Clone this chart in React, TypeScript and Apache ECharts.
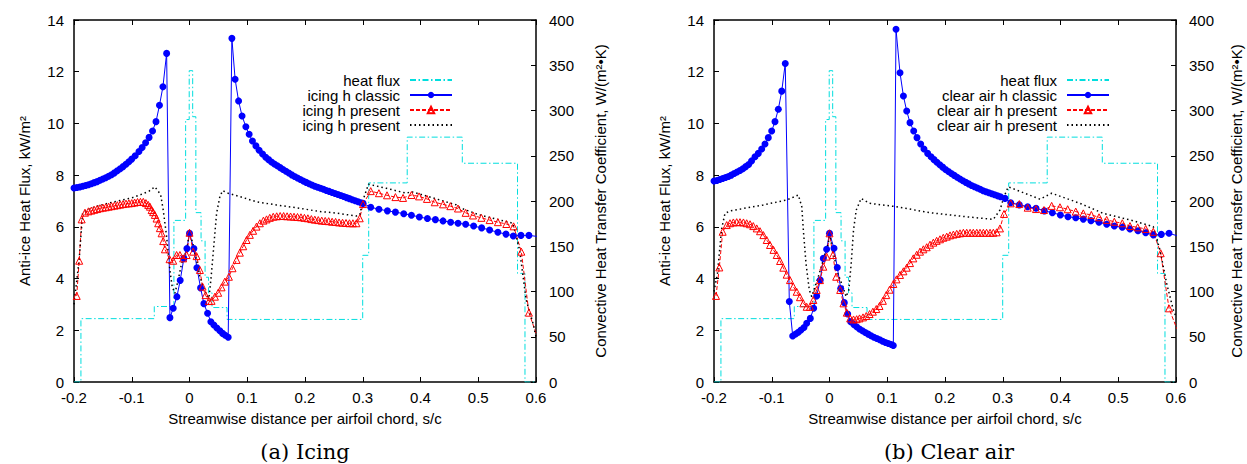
import React, { useEffect, useRef } from 'react';
import * as echarts from 'echarts';

// ---------- data (s/c, value) ----------
// heat flux, kW/m^2 (left axis), step function: value holds from s until next s
const heatFlux: [number, number][] = [
  [-0.2, 0], [-0.188, 2.45], [-0.061, 2.92], [-0.027, 6.25], [-0.0067, 10.15], [-0.0005, 12.04],
  [0.0055, 10.26], [0.011, 6.55], [0.02, 5.46], [0.027, 4.05], [0.033, 3.45], [0.039, 2.88],
  [0.065, 2.42], [0.2999, 4.9], [0.3103, 7.7], [0.377, 9.47], [0.4724, 8.46], [0.568, 4.2],
  [0.5809, 0], [0.6, 0],
];

// heat transfer coefficients, W/(m^2 K) (right axis)
const icingClassic: [number, number][] = [
  [-0.2, 214.3], [-0.195, 214.9], [-0.19, 215.4], [-0.185, 216.3], [-0.18, 217.1], [-0.175, 218.0],
  [-0.17, 219.1], [-0.165, 220.3], [-0.16, 221.4], [-0.155, 222.9], [-0.15, 224.3], [-0.145, 225.7],
  [-0.14, 227.4], [-0.135, 229.1], [-0.13, 231.1], [-0.125, 233.4], [-0.12, 235.7], [-0.115, 238.0],
  [-0.11, 240.6], [-0.105, 243.4], [-0.1, 246.3], [-0.094, 250.0], [-0.0875, 254.6], [-0.082, 259.1],
  [-0.076, 264.3], [-0.07, 270.3], [-0.064, 277.4], [-0.058, 287.7], [-0.052, 305.7], [-0.046, 326.3],
  [-0.0396, 363.1],
  [-0.0339, 71.1], [-0.0282, 81.4], [-0.0218, 94.3], [-0.0161, 112.3], [-0.0097, 136.6], [-0.0045, 147.4],
  [0, 164.3], [0.0076, 147.4], [0.0128, 126.3], [0.0192, 104.0], [0.0249, 86.6], [0.0313, 76.0],
  [0.037, 66.6], [0.0422, 62.9], [0.0474, 59.7], [0.0526, 56.6], [0.0573, 53.7], [0.0618, 51.7], [0.067, 49.4],
  [0.0734, 379.7], [0.079, 334.6], [0.085, 310.6], [0.091, 294.0], [0.0976, 282.0], [0.1033, 273.7],
  [0.109, 266.3], [0.115, 260.9], [0.1206, 256.0], [0.1265, 252.0], [0.132, 248.3], [0.137, 245.7],
  [0.142, 243.1], [0.147, 240.9], [0.152, 238.9], [0.157, 236.9], [0.162, 234.9], [0.167, 232.9],
  [0.172, 230.9], [0.177, 228.9], [0.182, 227.1], [0.187, 225.4], [0.192, 223.7], [0.197, 222.0],
  [0.202, 220.6], [0.207, 219.1], [0.212, 217.7], [0.217, 216.3], [0.222, 215.1], [0.227, 214.0],
  [0.232, 212.9], [0.237, 211.7], [0.242, 210.6], [0.247, 209.4], [0.252, 208.3], [0.257, 207.1],
  [0.262, 206.0], [0.267, 204.9], [0.272, 203.7], [0.277, 202.6], [0.282, 201.4], [0.287, 200.3],
  [0.292, 199.1], [0.297, 198.0], [0.3005, 197.4],
  [0.3138, 193.1], [0.328, 190.9], [0.3427, 189.1], [0.3566, 187.7], [0.371, 186.0], [0.3843, 184.3],
  [0.398, 182.3], [0.412, 180.6], [0.4258, 179.4], [0.439, 178.0], [0.4522, 176.6], [0.465, 175.4],
  [0.4782, 174.3], [0.492, 172.3], [0.5059, 170.3], [0.5197, 168.0], [0.534, 165.4], [0.548, 163.4],
  [0.5607, 161.4], [0.574, 162.0], [0.5877, 162.0], [0.6014, 160.9],
];

const icingPresent: [number, number][] = [
  [-0.1953, 95.1], [-0.191, 134.0], [-0.1867, 179.7], [-0.181, 187.1], [-0.175, 188.6], [-0.17, 189.4],
  [-0.165, 190.3], [-0.16, 191.1], [-0.155, 192.0], [-0.15, 192.6], [-0.145, 193.1], [-0.14, 193.7],
  [-0.135, 194.3], [-0.13, 194.9], [-0.125, 195.4], [-0.12, 196.0], [-0.115, 196.6], [-0.11, 197.1],
  [-0.105, 197.4], [-0.1, 197.7], [-0.095, 198.3], [-0.09, 198.9], [-0.085, 199.1], [-0.08, 199.1],
  [-0.0755, 197.7], [-0.0715, 195.7], [-0.0685, 193.7], [-0.0656, 190.0], [-0.063, 187.7], [-0.06, 184.6],
  [-0.057, 180.6], [-0.0542, 175.4], [-0.0513, 170.0], [-0.0483, 164.3], [-0.0455, 155.7], [-0.0426, 146.6],
  [-0.0345, 135.7], [-0.0282, 134.0], [-0.0223, 140.3], [-0.0166, 140.3], [-0.011, 136.6], [-0.005, 140.3],
  [0, 164.9], [0.0064, 144.0], [0.0123, 139.1], [0.018, 123.7], [0.0226, 105.4], [0.0278, 96.0],
  [0.0336, 89.4], [0.0382, 89.7], [0.044, 94.3], [0.0497, 98.6], [0.0555, 104.6], [0.0612, 110.9],
  [0.0682, 116.3], [0.0745, 125.7], [0.0815, 134.9], [0.0872, 142.9], [0.093, 150.0], [0.0988, 156.9],
  [0.1045, 162.6], [0.1102, 167.1], [0.116, 171.7], [0.1218, 175.4], [0.128, 178.3], [0.1334, 179.7],
  [0.139, 181.4], [0.145, 182.6], [0.151, 183.1], [0.157, 183.4], [0.163, 183.4], [0.169, 183.1],
  [0.175, 182.9], [0.181, 182.6], [0.187, 182.3], [0.193, 182.0], [0.199, 181.4], [0.205, 180.9],
  [0.211, 180.0], [0.217, 179.4], [0.223, 178.9], [0.229, 178.3], [0.235, 178.0], [0.241, 177.7],
  [0.247, 177.1], [0.253, 176.9], [0.259, 176.3], [0.265, 176.0], [0.271, 175.7], [0.277, 175.4],
  [0.283, 175.4], [0.289, 175.4], [0.2948, 180.9], [0.3005, 196.6], [0.3138, 210.9], [0.328, 208.6],
  [0.342, 206.3], [0.3566, 204.3], [0.3698, 203.4], [0.3843, 206.6], [0.3975, 205.1], [0.4112, 202.3],
  [0.4246, 198.6], [0.439, 196.3], [0.4517, 194.3], [0.4649, 191.7], [0.4782, 186.9], [0.4909, 184.0],
  [0.5054, 181.4], [0.5197, 178.9], [0.534, 176.6], [0.5486, 174.6], [0.5612, 172.0], [0.5746, 144.0],
  [0.5877, 76.6], [0.6014, 51.4],
];

const icingPresent2: [number, number][] = [
  [-0.2, 85.7], [-0.191, 135.7], [-0.185, 187.1], [-0.178, 190.0], [-0.16, 194.3], [-0.14, 197.7],
  [-0.12, 200.6], [-0.1, 203.4], [-0.086, 206.6], [-0.07, 210.9], [-0.06, 215.7], [-0.05, 207.1],
  [-0.0455, 190.0], [-0.0396, 160.6], [-0.034, 123.7], [-0.03, 105.4], [-0.0253, 98.0], [-0.0196, 112.6],
  [-0.0137, 131.1], [-0.005, 145.7], [0, 166.0], [0.0064, 151.4], [0.0122, 134.9], [0.018, 116.3],
  [0.0237, 105.4], [0.0296, 96.0], [0.0336, 92.6], [0.037, 112.6], [0.041, 142.3], [0.0469, 186.3],
  [0.0526, 204.9], [0.0573, 211.4], [0.067, 208.6], [0.0872, 204.9], [0.116, 199.1], [0.15, 195.7],
  [0.191, 192.0], [0.2256, 188.3], [0.2486, 187.1], [0.289, 183.4], [0.2948, 184.6], [0.3005, 201.1],
  [0.31, 218.6], [0.341, 214.0], [0.3756, 208.6], [0.384, 210.3], [0.4217, 203.4], [0.462, 195.7],
  [0.4678, 192.6], [0.5024, 184.6], [0.56, 175.4], [0.5716, 145.7], [0.583, 90.6], [0.5948, 64.9],
  [0.6, 50.0],
];

const clearClassic: [number, number][] = [
  [-0.2, 222.0], [-0.195, 222.6], [-0.19, 223.7], [-0.185, 224.9], [-0.18, 226.0], [-0.175, 227.1],
  [-0.17, 228.6], [-0.165, 230.3], [-0.16, 232.0], [-0.155, 233.7], [-0.15, 235.7], [-0.145, 238.0],
  [-0.14, 240.3], [-0.135, 244.3], [-0.129, 248.9], [-0.1233, 252.6], [-0.1174, 257.4], [-0.1117, 262.9],
  [-0.106, 270.0], [-0.1001, 277.4], [-0.0944, 287.7], [-0.0886, 301.4], [-0.0827, 321.4], [-0.0766, 352.0],
  [-0.0696, 88.9], [-0.0637, 50.9], [-0.0585, 53.1], [-0.054, 54.9], [-0.0494, 57.4], [-0.0442, 60.3],
  [-0.0395, 64.9], [-0.0332, 70.3], [-0.0274, 81.4], [-0.0222, 95.1], [-0.016, 112.6], [-0.0107, 136.6],
  [-0.005, 146.6], [0, 164.3], [0.0078, 147.7], [0.0135, 126.6], [0.0194, 103.4], [0.0256, 87.7],
  [0.0315, 75.1], [0.0367, 66.6], [0.042, 63.7], [0.047, 61.1], [0.052, 58.6], [0.057, 56.6],
  [0.062, 54.6], [0.067, 52.9], [0.072, 51.1], [0.077, 49.4], [0.082, 48.0], [0.087, 46.6],
  [0.092, 45.1], [0.097, 43.7], [0.102, 42.6], [0.107, 41.4], [0.1105, 40.3],
  [0.1152, 389.7], [0.1221, 341.7], [0.128, 316.0], [0.1337, 299.4], [0.1394, 286.6], [0.1458, 277.4],
  [0.1515, 270.0], [0.1579, 262.9], [0.1636, 257.4], [0.17, 252.6], [0.1758, 248.9], [0.181, 245.7],
  [0.186, 242.9], [0.191, 240.0], [0.196, 237.4], [0.201, 234.9], [0.206, 232.6], [0.211, 230.3],
  [0.216, 228.3], [0.221, 226.3], [0.226, 224.3], [0.231, 222.3], [0.236, 220.6], [0.241, 218.9],
  [0.246, 217.1], [0.251, 215.7], [0.256, 214.3], [0.261, 212.9], [0.266, 211.4], [0.271, 210.3],
  [0.276, 209.1], [0.281, 208.0], [0.286, 206.9], [0.291, 205.7], [0.296, 204.6], [0.3039, 202.9],
  [0.3138, 198.0], [0.3287, 195.7], [0.3432, 193.7], [0.3576, 192.0], [0.372, 189.1], [0.3859, 187.1],
  [0.3998, 184.6], [0.413, 182.6], [0.4264, 181.4], [0.4395, 180.0], [0.4528, 178.3], [0.4667, 176.6],
  [0.48, 174.3], [0.4932, 172.3], [0.507, 170.9], [0.5203, 169.1], [0.5342, 167.1], [0.5475, 164.9],
  [0.5607, 162.6], [0.5745, 163.1], [0.5879, 164.3], [0.6014, 161.7],
];

const clearPresent: [number, number][] = [
  [-0.1965, 95.1], [-0.1908, 126.6], [-0.185, 166.0], [-0.178, 173.4], [-0.1723, 175.4], [-0.1665, 176.3],
  [-0.1607, 176.6], [-0.155, 176.6], [-0.149, 176.3], [-0.1434, 175.4], [-0.1376, 174.3], [-0.132, 172.3],
  [-0.126, 169.7], [-0.1203, 166.6], [-0.1145, 162.3], [-0.1087, 156.9], [-0.103, 151.4], [-0.097, 146.0],
  [-0.0914, 140.3], [-0.0856, 133.7], [-0.08, 126.3], [-0.0742, 118.6], [-0.0684, 112.6], [-0.0627, 105.4],
  [-0.0568, 99.7], [-0.0511, 93.7], [-0.0453, 86.9], [-0.0395, 83.1], [-0.0338, 83.1], [-0.028, 90.6],
  [-0.0222, 101.7], [-0.0165, 112.6], [-0.0107, 127.4], [-0.005, 138.6], [0, 164.3], [0.0058, 140.3],
  [0.0116, 116.3], [0.0185, 101.7], [0.0242, 86.9], [0.03, 76.6], [0.0358, 70.3], [0.0416, 69.1],
  [0.047, 69.4], [0.052, 70.3], [0.058, 71.4], [0.0636, 72.9], [0.0694, 75.1], [0.0751, 77.7],
  [0.081, 80.6], [0.0866, 84.0], [0.0924, 89.7], [0.0982, 96.0], [0.104, 102.0], [0.1105, 108.3],
  [0.116, 113.4], [0.1221, 118.3], [0.128, 122.3], [0.1337, 126.3], [0.1394, 131.4], [0.1451, 136.6],
  [0.151, 140.6], [0.1567, 144.0], [0.1625, 146.6], [0.1683, 148.9], [0.174, 151.7], [0.1798, 154.0],
  [0.1855, 156.0], [0.1913, 157.7], [0.197, 159.4], [0.203, 160.6], [0.2087, 162.0], [0.2145, 162.9],
  [0.2203, 163.7], [0.226, 164.3], [0.2318, 164.9], [0.2376, 164.9], [0.2434, 164.9], [0.249, 164.9],
  [0.255, 164.9], [0.2606, 164.9], [0.2664, 164.9], [0.272, 164.9], [0.278, 164.9], [0.2837, 164.9],
  [0.2895, 165.4], [0.2952, 169.7], [0.3022, 185.7], [0.3138, 197.4], [0.3287, 196.6], [0.3432, 192.6],
  [0.3576, 191.1], [0.3714, 190.0], [0.3847, 194.6], [0.3991, 193.1], [0.4124, 190.9], [0.4264, 188.3],
  [0.4395, 186.3], [0.4534, 184.6], [0.4667, 182.0], [0.48, 179.1], [0.4932, 177.1], [0.507, 175.4],
  [0.5203, 172.3], [0.5336, 170.9], [0.5475, 169.1], [0.5607, 166.0], [0.5735, 142.3], [0.5879, 81.4],
  [0.6014, 58.9],
];

const clearPresent2: [number, number][] = [
  [-0.2, 100.0], [-0.194, 120.0], [-0.187, 168.6], [-0.181, 186.3], [-0.172, 189.1], [-0.1146, 195.7],
  [-0.074, 201.1], [-0.054, 206.6], [-0.048, 193.7], [-0.0453, 168.0], [-0.0407, 131.1], [-0.035, 101.7],
  [-0.0308, 94.3], [-0.025, 105.4], [-0.0194, 116.3], [-0.0107, 134.9], [-0.002, 153.1], [0, 164.3],
  [0.0058, 145.7], [0.0144, 120.0], [0.023, 105.4], [0.0288, 94.3], [0.0334, 101.7], [0.0376, 131.1],
  [0.0416, 168.0], [0.0463, 190.0], [0.0549, 202.9], [0.0693, 197.4], [0.1155, 193.7], [0.174, 187.1],
  [0.2087, 184.6], [0.2318, 182.9], [0.2837, 179.7], [0.2952, 190.0], [0.3022, 204.9], [0.3096, 215.7],
  [0.3645, 202.0], [0.3847, 208.6], [0.4338, 197.4], [0.4742, 186.3], [0.5203, 179.1], [0.5607, 171.7],
  [0.5723, 145.7], [0.5838, 109.1], [0.5954, 79.4], [0.6, 72.3],
];

const X_NAME = 'Streamwise distance per airfoil chord, s/c';
const Y_NAME = 'Anti-ice Heat Flux, kW/m²';
const Y2_NAME = 'Convective Heat Transfer Coefficient, W/(m²•K)';
const CAPTIONS = ['(a) Icing', '(b) Clear air'];
const LEGEND_LEFT = ['heat flux', 'icing h classic', 'icing h present', 'icing h present '];
const LEGEND_RIGHT = ['heat flux ', 'clear air h classic', 'clear air h present', 'clear air h present '];

// ---------- styling ----------
const FONT = '"Liberation Sans", Arial, Helvetica, sans-serif';
const BLACK = '#000';
const GRID_LEFTS = [74, 714];
const GRID_W = 462;
const CLEAR = 'rgba(255,255,255,0)';

function xAxes(gridIndex: number) {
  const base = {
    type: 'value', gridIndex, min: -0.2, max: 0.6, interval: 0.1,
    splitLine: { show: false },
    axisLine: { show: true, onZero: false, lineStyle: { color: BLACK, width: 1.5 } },
    axisTick: { show: true, inside: true, length: 5, lineStyle: { color: BLACK, width: 1 } },
  };
  return [
    {
      ...base, position: 'bottom', name: X_NAME, nameLocation: 'middle', nameGap: 29,
      nameTextStyle: { fontFamily: FONT, fontSize: 15, color: BLACK },
      axisLabel: { show: true, fontFamily: FONT, fontSize: 15, color: BLACK, margin: 8 },
    },
    { ...base, position: 'top', axisLabel: { show: false } },
  ];
}

function yAxes(gridIndex: number, rightGap: number) {
  const common = {
    type: 'value', gridIndex, min: 0,
    splitLine: { show: false },
    axisLine: { show: true, onZero: false, lineStyle: { color: BLACK, width: 1.5 } },
    axisTick: { show: true, inside: true, length: 5, lineStyle: { color: BLACK, width: 1 } },
    nameLocation: 'middle', nameRotate: 90,
    nameTextStyle: { fontFamily: FONT, fontSize: 15, color: BLACK },
  };
  return [
    {
      ...common, position: 'left', max: 14, interval: 2, name: Y_NAME, nameGap: 42,
      axisLabel: { fontFamily: FONT, fontSize: 15, color: BLACK, margin: 10 },
    },
    {
      ...common, position: 'right', max: 400, interval: 50, name: Y2_NAME, nameGap: rightGap,
      axisLabel: { fontFamily: FONT, fontSize: 15, color: BLACK, margin: 13 },
    },
  ];
}

function seriesFor(g: number, names: string[], classic: any[], present: any[], present2: any[]) {
  const xi = g * 2;
  const yl = g * 2;
  const yr = g * 2 + 1;
  return [
    {
      name: names[0], type: 'line', xAxisIndex: xi, yAxisIndex: yl, data: heatFlux, step: 'end',
      symbol: 'none', lineStyle: { color: '#00dede', width: 1, type: [6, 2.5, 1.5, 2.5] },
      itemStyle: { color: CLEAR }, clip: true,
    },
    {
      name: names[1], type: 'line', xAxisIndex: xi, yAxisIndex: yr, data: classic,
      symbol: 'circle', symbolSize: 7, showSymbol: true, showAllSymbol: true,
      itemStyle: { color: '#0000ff' }, lineStyle: { color: '#0000ff', width: 1 }, clip: true,
    },
    {
      name: names[2], type: 'line', xAxisIndex: xi, yAxisIndex: yr, data: present,
      symbol: 'triangle', symbolSize: 7, showSymbol: true, showAllSymbol: true,
      itemStyle: { color: CLEAR, borderColor: '#ff0000', borderWidth: 1 },
      lineStyle: { color: '#ff0000', width: 1, type: [4, 2] }, clip: true,
    },
    {
      name: names[3], type: 'line', xAxisIndex: xi, yAxisIndex: yr, data: present2,
      symbol: 'none', itemStyle: { color: CLEAR },
      lineStyle: { color: BLACK, width: 1.5, type: [1.5, 3] }, clip: true,
    },
  ];
}

function legendFor(names: string[], rightPx: number) {
  return {
    data: names, orient: 'vertical', align: 'right', right: rightPx, top: 72.5,
    itemWidth: 42, itemHeight: 8, itemGap: 0, padding: 0, selectedMode: false,
    textStyle: { fontFamily: FONT, fontSize: 15, color: BLACK, padding: [0, 5, 0, 0] },
    formatter: (n: string) => n.trim(),
  };
}

const option: any = {
  animation: false,
  backgroundColor: '#fff',
  grid: GRID_LEFTS.map((l) => ({ left: l, top: 20, width: GRID_W, height: 362, containLabel: false, outerBoundsMode: 'none' })),
  xAxis: [...xAxes(0), ...xAxes(1)],
  yAxis: [...yAxes(0, 57), ...yAxes(1, 53)],
  legend: [legendFor(LEGEND_LEFT, 1247 - 453), legendFor(LEGEND_RIGHT, 1247 - 1110)],
  series: [
    ...seriesFor(0, LEGEND_LEFT, icingClassic, icingPresent, icingPresent2),
    ...seriesFor(1, LEGEND_RIGHT, clearClassic, clearPresent, clearPresent2),
  ],
  graphic: [
    {
      type: 'text', x: 305, y: 452,
      style: { text: CAPTIONS[0], font: '21px "DejaVu Serif", serif', textAlign: 'center', textVerticalAlign: 'middle', fill: BLACK },
    },
    {
      type: 'text', x: 949, y: 452,
      style: { text: CAPTIONS[1], font: '21px "DejaVu Serif", serif', textAlign: 'center', textVerticalAlign: 'middle', fill: BLACK },
    },
  ],
};

export default function App() {
  const ref = useRef<HTMLDivElement>(null);
  useEffect(() => {
    const chart = echarts.init(ref.current!, null, { renderer: 'svg' });
    chart.setOption(option);
    return () => chart.dispose();
  }, []);
  return (
    <div
      ref={ref}
      style={{ position: 'absolute', left: 0, top: 0, width: 1247, height: 464, background: '#fff' }}
    />
  );
}
